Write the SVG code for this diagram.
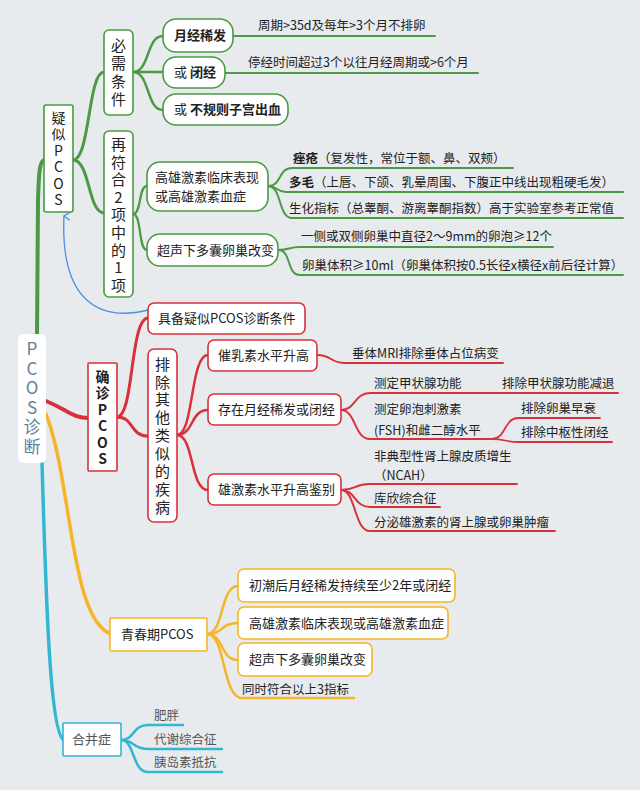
<svg xmlns="http://www.w3.org/2000/svg" width="640" height="790" viewBox="0 0 640 790">
<defs>
<style>
text{font-family:"Noto Sans CJK SC","Noto Sans",sans-serif;fill:#222;font-size:12.5px}
.t14{font-size:13px}
.b{font-weight:bold}
.v{writing-mode:vertical-rl;text-orientation:upright;text-anchor:middle;font-size:15px}
.box{fill:#fff;stroke-width:1.6}
.g{stroke:#4b9a44}.r{stroke:#d9303b}.y{stroke:#f5b52a}.c{stroke:#31b7d1}
.ln{fill:none;stroke-linecap:round}
.gray{fill:#555}
</style>
<marker id="ah" viewBox="0 0 10 10" refX="5" refY="1" markerWidth="10" markerHeight="10" orient="auto-start-reverse" markerUnits="userSpaceOnUse">
<path d="M1,7 L5,1 L9,7" fill="none" stroke="#4a90e2" stroke-width="1.3"/>
</marker>
</defs>
<rect width="640" height="790" fill="#e8ebee"/>

<g id="connectors">
<path class="ln g" stroke-width="4" d="M37,336 L38,200 C39,168 40,160 45,160"/>
<path class="ln r" stroke-width="4" d="M46,401 C68,410 72,418 89,418"/>
<path class="ln y" stroke-width="3.5" d="M46,414 C72,480 70,620 111,634"/>
<path class="ln c" stroke-width="3.5" d="M42,463 C46,600 50,735 64,740"/>
<path class="ln g" stroke-width="3" d="M73,160 C90,160 88,72 104,72"/>
<path class="ln g" stroke-width="3" d="M73,160 C90,160 88,213 104,213"/>
<path class="ln g" stroke-width="2.5" d="M133,72 C150,72 146,36 163,36"/>
<path class="ln g" stroke-width="2.5" d="M133,72 L163,72"/>
<path class="ln g" stroke-width="2.5" d="M133,72 C150,72 146,110 163,110"/>
<path class="ln g" stroke-width="2" d="M233,36 L435,36"/>
<path class="ln g" stroke-width="2" d="M225,73 L478,73"/>
<path class="ln g" stroke-width="2.2" d="M133,214 C142,214 138,186 147,186"/>
<path class="ln g" stroke-width="2.2" d="M133,214 C142,214 138,250 147,250"/>
<path class="ln g" stroke-width="2" d="M268,186 C282,186 278,168 292,168 L513,168"/>
<path class="ln g" stroke-width="2" d="M268,186 C278,186 276,192 286,192 L623,192"/>
<path class="ln g" stroke-width="2" d="M268,186 C282,186 278,218 292,218 L623,218"/>
<path class="ln g" stroke-width="2" d="M278,250 C290,250 288,247 300,247 L553,247"/>
<path class="ln g" stroke-width="2" d="M278,250 C292,250 286,275 300,275 L623,275"/>
<path fill="none" stroke="#4a90e2" stroke-width="1.3" d="M148,310 C100,322 60,302 64,216" marker-end="url(#ah)"/>
<path class="ln r" stroke-width="3" d="M117,417 C134,417 130,318 148,318"/>
<path class="ln r" stroke-width="3" d="M117,417 C134,417 130,436 148,436"/>
<path class="ln r" stroke-width="2.5" d="M177,435 C194,435 190,355 208,355"/>
<path class="ln r" stroke-width="2.5" d="M177,435 C194,435 190,410 208,410"/>
<path class="ln r" stroke-width="2.5" d="M177,435 C194,435 190,490 208,490"/>
<path class="ln r" stroke-width="2" d="M317,355 C332,355 330,363 345,363 L503,363"/>
<path class="ln r" stroke-width="2" d="M341,410 C356,410 354,393 370,393 L618,393"/>
<path class="ln r" stroke-width="2" d="M341,410 C356,410 354,439 370,439 L492,439"/>
<path class="ln r" stroke-width="1.8" d="M492,439 C506,439 504,418 518,418 L600,418"/>
<path class="ln r" stroke-width="1.8" d="M492,439 C506,439 504,442 518,442 L612,442"/>
<path class="ln r" stroke-width="2" d="M341,490 C356,490 354,484 370,484 L517,484"/>
<path class="ln r" stroke-width="2" d="M341,490 C356,490 354,507 370,507 L440,507"/>
<path class="ln r" stroke-width="2" d="M341,490 C356,490 354,531 370,531 L555,531"/>
<path class="ln y" stroke-width="2.5" d="M207,634 C224,634 220,586 238,586"/>
<path class="ln y" stroke-width="2.5" d="M207,634 C224,634 220,623 238,623"/>
<path class="ln y" stroke-width="2.5" d="M207,634 C224,634 220,660 238,660"/>
<path class="ln y" stroke-width="2.5" d="M207,634 C226,634 222,698 242,698 L354,698"/>
<path class="ln c" stroke-width="2.5" d="M121,740 C135,740 132,725 148,725 L183,725"/>
<path class="ln c" stroke-width="2.5" d="M121,740 C135,740 132,749 148,749 L222,749"/>
<path class="ln c" stroke-width="2.5" d="M121,740 C135,740 132,772 148,772 L222,772"/>
</g>

<g id="root">
<rect x="18" y="334" width="28" height="129" rx="6" fill="#fff"/>
<text class="v" x="32" y="399" style="font-size:17px;letter-spacing:2.5px;fill:#5f7f9c">PCOS诊断</text>
</g>

<g id="n-yisi">
<rect class="box g" x="44" y="105" width="29" height="107" rx="2"/>
<text class="v" x="58.5" y="160" style="font-size:14px;letter-spacing:2.5px">疑似PCOS</text>
</g>
<g id="n-bixu">
<rect class="box g" x="104" y="30" width="29" height="85" rx="5"/>
<text class="v" x="118.5" y="74" style="letter-spacing:3px">必需条件</text>
</g>
<g id="n-zaifuhe">
<rect class="box g" x="104" y="131" width="29" height="166" rx="5"/>
<text class="v" x="118.5" y="216" style="letter-spacing:2.6px">再符合2项中的1项</text>
</g>
<g id="n-yuejing">
<rect class="box g" x="163" y="19" width="70" height="33" rx="13"/>
<text class="t14 b" x="174" y="40">月经稀发</text>
</g>
<g id="n-bijing">
<rect class="box g" x="163" y="57" width="62" height="31" rx="13"/>
<text class="t14" x="174" y="77">或 <tspan class="b">闭经</tspan></text>
</g>
<g id="n-buguize">
<rect class="box g" x="163" y="94" width="125" height="31" rx="13"/>
<text class="t14" x="174" y="114">或 <tspan class="b">不规则子宫出血</tspan></text>
</g>
<g id="l-zhouqi"><text x="258" y="30">周期&gt;35d及每年&gt;3个月不排卵</text></g>
<g id="l-tingjing"><text x="248" y="67">停经时间超过3个以往月经周期或&gt;6个月</text></g>
<g id="n-gaoxiong">
<rect class="box g" x="147" y="162" width="121" height="49" rx="13"/>
<text class="t14" x="155" y="182">高雄激素临床表现</text>
<text class="t14" x="155" y="201">或高雄激素血症</text>
</g>
<g id="n-chaosheng">
<rect class="box g" x="147" y="234" width="131" height="32" rx="13"/>
<text class="t14" x="157" y="255">超声下多囊卵巢改变</text>
</g>
<g id="l-cuochuang"><text x="293" y="163"><tspan class="b">痤疮</tspan>（复发性，常位于额、鼻、双颊）</text></g>
<g id="l-duomao"><text x="289" y="187"><tspan class="b">多毛</tspan>（上唇、下颌、乳晕周围、下腹正中线出现粗硬毛发）</text></g>
<g id="l-shenghua"><text x="289" y="213">生化指标（总睾酮、游离睾酮指数）高于实验室参考正常值</text></g>
<g id="l-yice"><text x="301" y="241">一侧或双侧卵巢中直径2～9mm的卵泡≥12个</text></g>
<g id="l-tiji"><text x="302" y="270">卵巢体积≥10ml（卵巢体积按0.5长径x横径x前后径计算）</text></g>

<g id="n-quezhen">
<rect class="box r" x="88" y="363" width="29" height="108" rx="1"/>
<text class="v b" x="102.5" y="419" style="font-size:14px;letter-spacing:2.5px">确诊PCOS</text>
</g>
<g id="n-jubei">
<rect class="box r" x="148" y="303" width="157" height="31" rx="6"/>
<text class="t14" x="158" y="323">具备疑似PCOS诊断条件</text>
</g>
<g id="n-paichu">
<rect class="box r" x="148" y="349" width="29" height="173" rx="6"/>
<text class="v" x="162.5" y="437" style="letter-spacing:2.9px">排除其他类似的疾病</text>
</g>
<g id="n-cuiru">
<rect class="box r" x="208" y="340" width="109" height="31" rx="6"/>
<text class="t14" x="218" y="360">催乳素水平升高</text>
</g>
<g id="n-cunzai">
<rect class="box r" x="208" y="394" width="133" height="31" rx="6"/>
<text class="t14" x="218" y="414">存在月经稀发或闭经</text>
</g>
<g id="n-xiongjisu">
<rect class="box r" x="208" y="474" width="133" height="31" rx="6"/>
<text class="t14" x="218" y="494">雄激素水平升高鉴别</text>
</g>
<g id="l-chuiti"><text x="352" y="358">垂体MRI排除垂体占位病变</text></g>
<g id="l-jiazhuang"><text x="374" y="388">测定甲状腺功能</text></g>
<g id="l-paijia"><text x="502" y="388">排除甲状腺功能减退</text></g>
<g id="l-fsh"><text x="374" y="414">测定卵泡刺激素</text><text x="374" y="435">(FSH)和雌二醇水平</text></g>
<g id="l-zaoshuai"><text x="521" y="413">排除卵巢早衰</text></g>
<g id="l-zhongshu"><text x="521" y="437">排除中枢性闭经</text></g>
<g id="l-ncah"><text x="374" y="461">非典型性肾上腺皮质增生</text><text x="374" y="480">（NCAH）</text></g>
<g id="l-kuxin"><text x="374" y="503">库欣综合征</text></g>
<g id="l-zhongliu"><text x="374" y="527">分泌雄激素的肾上腺或卵巢肿瘤</text></g>

<g id="n-qingchun">
<rect class="box y" x="110" y="618" width="97" height="33" rx="1"/>
<text class="t14" x="121" y="639">青春期PCOS</text>
</g>
<g id="n-chuchao">
<rect class="box y" x="238" y="569" width="217" height="33" rx="6"/>
<text class="t14" x="249" y="590">初潮后月经稀发持续至少2年或闭经</text>
</g>
<g id="n-gaoxiong2">
<rect class="box y" x="238" y="607" width="210" height="32" rx="6"/>
<text class="t14" x="249" y="628">高雄激素临床表现或高雄激素血症</text>
</g>
<g id="n-chaosheng2">
<rect class="box y" x="238" y="643" width="134" height="33" rx="6"/>
<text class="t14" x="249" y="664">超声下多囊卵巢改变</text>
</g>
<g id="l-tongshi"><text x="242" y="694">同时符合以上3指标</text></g>

<g id="n-hebing">
<rect class="box c" x="63" y="723" width="58" height="33" rx="1"/>
<text class="t14 gray" x="72" y="744">合并症</text>
</g>
<g id="l-feipang"><text class="gray" x="154" y="720">肥胖</text></g>
<g id="l-daixie"><text class="gray" x="154" y="744">代谢综合征</text></g>
<g id="l-yidaosu"><text class="gray" x="154" y="767">胰岛素抵抗</text></g>
</svg>
